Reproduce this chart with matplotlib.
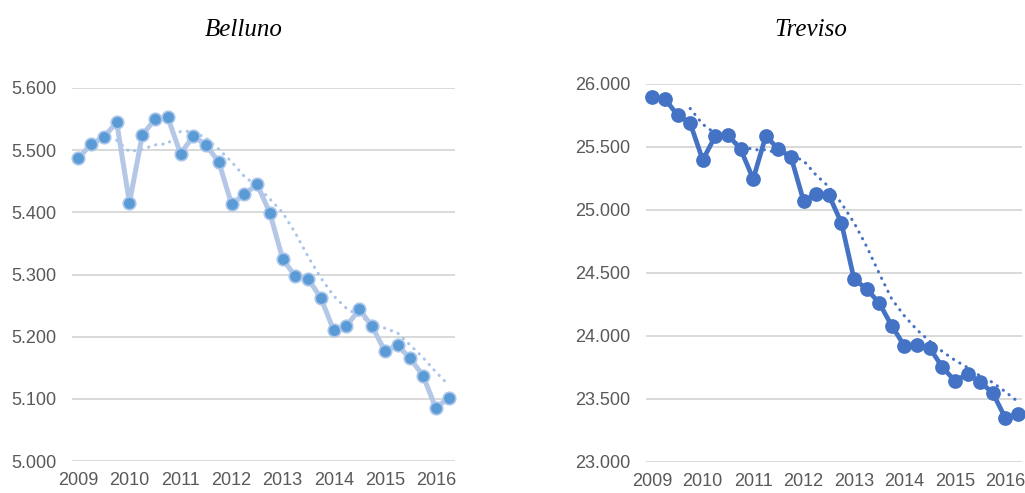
import matplotlib
matplotlib.use("Agg")
import matplotlib.pyplot as plt
import numpy as np
import pandas as pd

# Quarterly data 2009Q1 .. 2016Q2
belluno = [5.487, 5.510, 5.521, 5.545, 5.415, 5.524, 5.550, 5.553,
           5.494, 5.523, 5.508, 5.481, 5.413, 5.429, 5.445, 5.399,
           5.325, 5.297, 5.293, 5.262, 5.210, 5.217, 5.244, 5.217,
           5.177, 5.186, 5.165, 5.137, 5.085, 5.102]
treviso = [25.897, 25.881, 25.754, 25.690, 25.397, 25.587, 25.595, 25.484,
           25.246, 25.587, 25.484, 25.421, 25.071, 25.127, 25.119, 24.897,
           24.452, 24.373, 24.262, 24.079, 23.921, 23.929, 23.905, 23.754,
           23.643, 23.698, 23.635, 23.548, 23.349, 23.381]
year_labels = ["2009", "2010", "2011", "2012", "2013", "2014", "2015", "2016"]
titles = ["Belluno", "Treviso"]
belluno_ticks = [5.0, 5.1, 5.2, 5.3, 5.4, 5.5, 5.6]
treviso_ticks = [23.0, 23.5, 24.0, 24.5, 25.0, 25.5, 26.0]

W, H = 1025, 493
fig = plt.figure(figsize=(W / 100, H / 100), dpi=100)

panels = [
    dict(data=belluno, ticks=belluno_ticks, title=titles[0], tx=244,
         rect=(72, 88, 455, 461), xr=29.5,
         line="#B4C7E7", mface="#5B9BD5", medge="#A9C5EA", trend="#A9C5EA",
         lw=3.6, ms=9.0),
    dict(data=treviso, ticks=treviso_ticks, title=titles[1], tx=811,
         rect=(646, 84, 1022, 462), xr=29.32,
         line="#4472C4", mface="#4472C4", medge="#4472C4", trend="#4472C4",
         lw=3.4, ms=9.4),
]

for p in panels:
    x0, yt, x1, yb = p["rect"]
    ax = fig.add_axes([x0 / W, 1 - yb / H, (x1 - x0) / W, (yb - yt) / H])
    y = np.array(p["data"])
    x = np.arange(len(y))
    ma = pd.Series(y).rolling(4).mean()
    ax.plot(x, ma, color=p["trend"], lw=2.2, linestyle=(0, (0.1, 2.3)),
            dash_capstyle="round", zorder=2)
    ax.plot(x, y, color=p["line"], lw=p["lw"], marker="o", ms=p["ms"],
            mfc=p["mface"], mec=p["medge"], mew=1.2, zorder=3,
            solid_joinstyle="round")
    ax.set_xlim(-0.5, p["xr"])
    ax.set_ylim(p["ticks"][0], p["ticks"][-1])
    ax.set_yticks(p["ticks"])
    ax.set_yticklabels([f"{t:.3f}" for t in p["ticks"]])
    ax.set_xticks(np.arange(0, len(y), 4))
    ax.set_xticklabels(year_labels)
    ax.grid(axis="y", color="#D9D9D9", lw=1.4)
    ax.set_axisbelow(True)
    for s in ax.spines.values():
        s.set_visible(False)
    ax.tick_params(length=0, labelsize=13, colors="#595959")
    ax.tick_params(axis="y", pad=11)
    ax.tick_params(axis="x", pad=8)
    for lab in ax.get_xticklabels() + ax.get_yticklabels():
        lab.set_family("Liberation Sans")
    for ln in ax.get_lines():
        ln.set_clip_on(False)
    fig.text(p["tx"] / W, 1 - 36 / H, p["title"], ha="center", va="baseline",
             fontsize=18, style="italic", family="Liberation Serif")

fig.savefig("out.png", dpi=100)
